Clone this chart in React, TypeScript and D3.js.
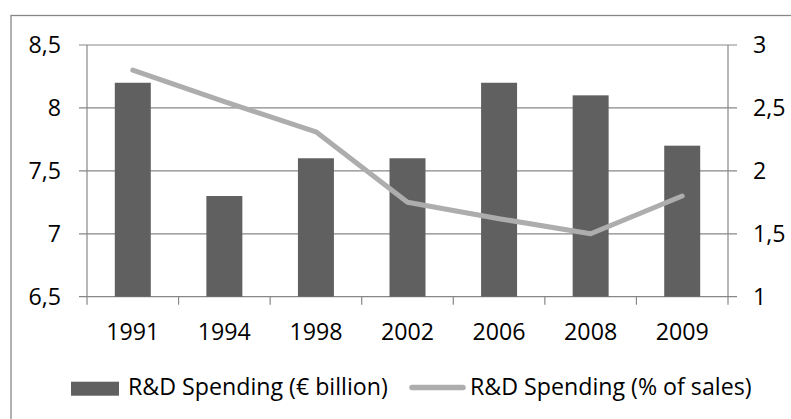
import React from 'react';
import * as d3 from 'd3';

const categories = ['1991', '1994', '1998', '2002', '2006', '2008', '2009'];
const spendingBillion = [8.2, 7.3, 7.6, 7.6, 8.2, 8.1, 7.7];
const spendingPct = [2.8, 2.55, 2.31, 1.75, 1.62, 1.5, 1.8];
const leftTicks = [6.5, 7, 7.5, 8, 8.5];
const rightTicks = [1, 1.5, 2, 2.5, 3];
const seriesNames = ['R&D Spending (€ billion)', 'R&D Spending (% of sales)'];

const W = 791;
const H = 419;
const plot = { left: 87, right: 728, top: 45, bottom: 296.7 };
const FONT = '"Open Sans", Lato, sans-serif';
const FS = 23.2;
const AXIS = '#878787';
const BAR = '#606060';
const LINE = '#adadad';

const fmt = (v: number) => String(v).replace('.', ',');

export default function App() {
  const x = d3.scaleBand<string>().domain(categories).range([plot.left, plot.right]).padding(0);
  const yL = d3.scaleLinear().domain([6.5, 8.5]).range([plot.bottom, plot.top]);
  const yR = d3.scaleLinear().domain([1, 3]).range([plot.bottom, plot.top]);
  const bw = x.bandwidth();
  const barW = bw * 0.393;
  const line = d3
    .line<number>()
    .x((_, i) => (x(categories[i]) as number) + bw / 2)
    .y((d) => yR(d));
  const boundaries = categories.map((c) => x(c) as number).concat([plot.right]);

  return (
    <svg width={W} height={H} style={{ position: 'absolute', left: 0, top: 0, background: '#fff' }}>
      <rect x={11} y={15.5} width={900} height={600} fill="#fff" stroke={AXIS} strokeWidth={1.3} />
      {/* gridlines */}
      {leftTicks.map((t) => (
        <line key={'g' + t} x1={plot.left - 8} x2={plot.right + 9} y1={yL(t)} y2={yL(t)} stroke={AXIS} strokeWidth={1.2} />
      ))}
      {/* axes */}
      <line x1={plot.left} x2={plot.left} y1={plot.top} y2={plot.bottom + 8} stroke={AXIS} strokeWidth={1.2} />
      <line x1={plot.right} x2={plot.right} y1={plot.top} y2={plot.bottom + 8} stroke={AXIS} strokeWidth={1.2} />
      {boundaries.slice(1, -1).map((b, i) => (
        <line key={'xt' + i} x1={b} x2={b} y1={plot.bottom} y2={plot.bottom + 8} stroke={AXIS} strokeWidth={1.2} />
      ))}
      {/* bars */}
      {spendingBillion.map((v, i) => {
        const cx = (x(categories[i]) as number) + bw / 2;
        return <rect key={'b' + i} x={cx - barW / 2} y={yL(v)} width={barW} height={plot.bottom - yL(v)} fill={BAR} />;
      })}
      {/* line */}
      <path d={line(spendingPct) || ''} fill="none" stroke={LINE} strokeWidth={5} strokeLinecap="round" strokeLinejoin="round" />
      {/* tick labels */}
      {leftTicks.map((t) => (
        <text key={'lt' + t} x={61} y={yL(t) + 8} textAnchor="end" fontFamily={FONT} fontSize={FS} fill="#000">
          {fmt(t)}
        </text>
      ))}
      {rightTicks.map((t) => (
        <text key={'rt' + t} x={753} y={yR(t) + 8} textAnchor="start" fontFamily={FONT} fontSize={FS} fill="#000">
          {fmt(t)}
        </text>
      ))}
      {categories.map((c) => (
        <text key={'c' + c} x={(x(c) as number) + bw / 2} y={339.5} textAnchor="middle" fontFamily={FONT} fontSize={FS} fill="#000">
          {c}
        </text>
      ))}
      {/* legend */}
      <rect x={71} y={381.7} width={48} height={14} fill={BAR} />
      <text x={128} y={395} fontFamily={FONT} fontSize={FS} fill="#000">
        {seriesNames[0]}
      </text>
      <line x1={412} x2={463} y1={387.5} y2={387.5} stroke={LINE} strokeWidth={5.5} strokeLinecap="round" />
      <text x={470} y={395} fontFamily={FONT} fontSize={FS} fill="#000">
        {seriesNames[1]}
      </text>
    </svg>
  );
}
